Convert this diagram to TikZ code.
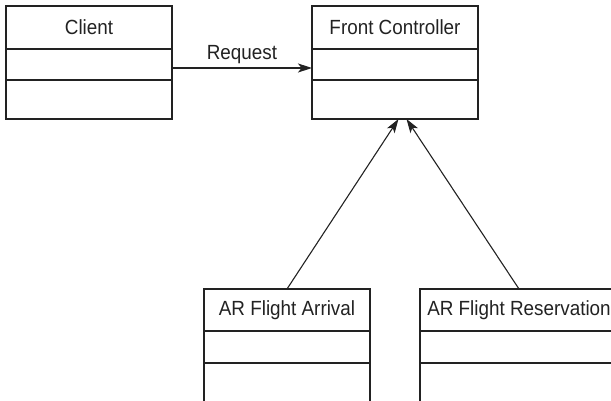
\documentclass[tikz,border=0pt]{standalone}
\usepackage{fontspec}
\setmainfont{Liberation Sans}[FakeStretch=0.92]
\usetikzlibrary{positioning, arrows.meta}
\definecolor{ink}{HTML}{222222}

\begin{document}
\begin{tikzpicture}[
    x=1pt, y=-1pt,
    node distance=0pt,
    every node/.style={font=\fontsize{20.5}{24}\selectfont, text=ink},
    part/.style={
        draw=ink,
        line width=1.1pt,
        minimum width=166pt,
        inner sep=0pt,
        outer sep=0pt
    },
    title/.style={part, minimum height=43pt},
    attr/.style={part, minimum height=31pt},
    ops/.style={part, minimum height=39pt},
    arrow/.style={-{Stealth[length=14pt, width=9pt, inset=3.5pt]}, line width=1.1pt, draw=ink}
]

\useasboundingbox (0,0) rectangle (611,401);
\clip (0,0) rectangle (611,401);

% upper classes
\node[title] at (89,27.5) (client) {Client};
\node[attr, below=of client] (client-attr) {};
\node[ops, below=of client-attr] (client-ops) {};

\node[title, right=140pt of client] (front) {Front Controller};
\node[attr, below=of front] (front-attr) {};
\node[ops, below=of front-attr] (front-ops) {};

% lower classes
\node[title, minimum height=42pt] at (287,310) (arrival) {AR Flight Arrival};
\node[attr, minimum height=32pt, below=of arrival] (arrival-attr) {};
\node[ops, minimum height=45pt, below=of arrival-attr] (arrival-ops) {};

\node[title, minimum height=42pt, minimum width=198pt] at (519,310) (reserv) {AR Flight Reservation};
\node[attr, minimum height=32pt, minimum width=198pt, below=of reserv] (reserv-attr) {};
\node[ops, minimum height=45pt, minimum width=198pt, below=of reserv-attr] (reserv-ops) {};

\draw[arrow] ([yshift=-3.5pt]client-attr.east) -- node[above=1pt, inner sep=3pt] (req) {Request} ([yshift=-3.5pt]front-attr.west);
\draw[arrow] (arrival.north) -- ([xshift=3.5pt]front-ops.south);
\draw[arrow] (reserv.north) -- ([xshift=11.5pt]front-ops.south);

\end{tikzpicture}
\end{document}
